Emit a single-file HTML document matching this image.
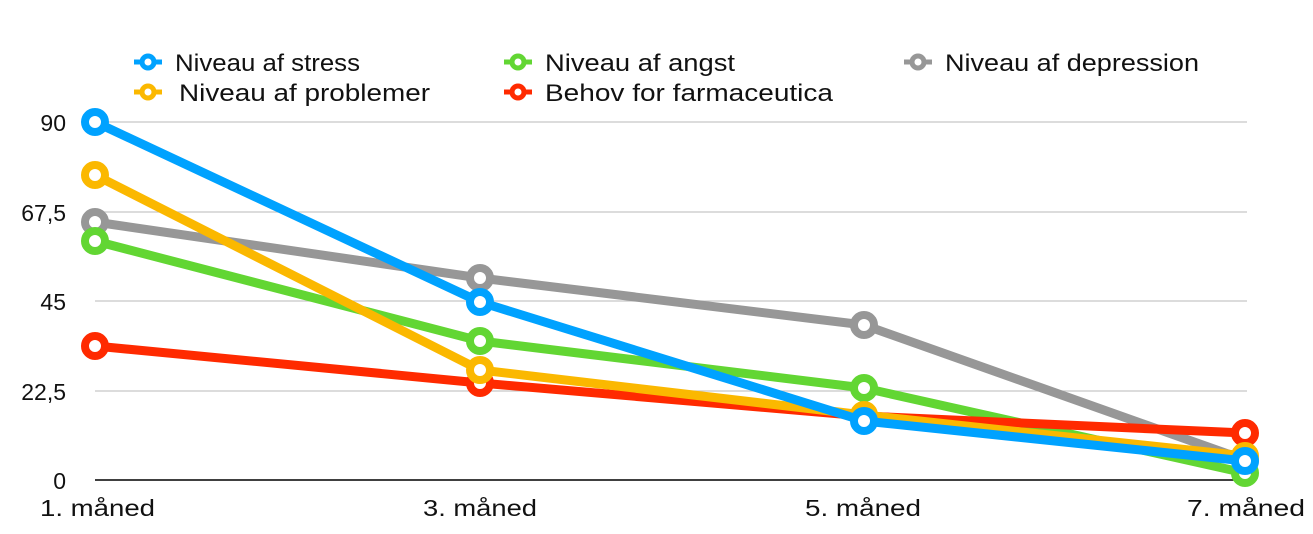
<!DOCTYPE html>
<html><head><meta charset="utf-8"><style>
body{margin:0;background:#fff;}
svg{display:block;font-family:"Liberation Sans",sans-serif;}
</style></head><body>
<svg width="1313" height="534" viewBox="0 0 1313 534">
<g stroke="#c8c8c8" stroke-width="1.2">
<line x1="95" y1="122" x2="1247" y2="122"/>
<line x1="95" y1="212" x2="1247" y2="212"/>
<line x1="95" y1="301" x2="1247" y2="301"/>
<line x1="95" y1="391" x2="1247" y2="391"/>
</g>
<line x1="95" y1="480" x2="1247" y2="480" stroke="#000" stroke-width="1.5"/>
<g font-size="23" fill="#111" text-anchor="end">
<text x="66" y="131">90</text>
<text x="66" y="221">67,5</text>
<text x="66" y="310">45</text>
<text x="66" y="400">22,5</text>
<text x="66" y="489">0</text>
</g>
<g font-size="23" fill="#111">
<text x="40" y="516" textLength="115" lengthAdjust="spacingAndGlyphs">1. måned</text>
<text x="423" y="516" textLength="114" lengthAdjust="spacingAndGlyphs">3. måned</text>
<text x="805" y="516" textLength="116" lengthAdjust="spacingAndGlyphs">5. måned</text>
<text x="1187" y="516" textLength="118" lengthAdjust="spacingAndGlyphs">7. måned</text>
</g>
<g fill="#fff" stroke-width="8" stroke-linejoin="round">
<g stroke="#979797"><polyline fill="none" stroke-width="9" points="95,222 480,278 864,325 1245,460"/>
<circle cx="95" cy="222" r="10"/><circle cx="480" cy="278" r="10"/><circle cx="864" cy="325" r="10"/><circle cx="1245" cy="460" r="10"/></g>
<g stroke="#62d633"><polyline fill="none" stroke-width="9" points="95,241 480,341 864,388 1245,473"/>
<circle cx="95" cy="241" r="10"/><circle cx="480" cy="341" r="10"/><circle cx="864" cy="388" r="10"/><circle cx="1245" cy="473" r="10"/></g>
<g stroke="#ff2a00"><polyline fill="none" stroke-width="9" points="95,346 480,383 864,416 1245,433"/>
<circle cx="95" cy="346" r="10"/><circle cx="480" cy="383" r="10"/><circle cx="864" cy="416" r="10"/><circle cx="1245" cy="433" r="10"/></g>
<g stroke="#fbb800"><polyline fill="none" stroke-width="9" points="95,175 480,370 864,415 1245,456"/>
<circle cx="95" cy="175" r="10"/><circle cx="480" cy="370" r="10"/><circle cx="864" cy="415" r="10"/><circle cx="1245" cy="456" r="10"/></g>
<g stroke="#00a2ff"><polyline fill="none" stroke-width="9" points="95,122 480,302 864,421 1245,461"/>
<circle cx="95" cy="122" r="10"/><circle cx="480" cy="302" r="10"/><circle cx="864" cy="421" r="10"/><circle cx="1245" cy="461" r="10"/></g>
</g>
<g stroke-width="5" fill="#fff">
<line x1="134" y1="62" x2="162" y2="62" stroke="#00a2ff"/><circle cx="148" cy="62" r="6" stroke="#00a2ff"/>
<line x1="134" y1="92" x2="162" y2="92" stroke="#fbb800"/><circle cx="148" cy="92" r="6" stroke="#fbb800"/>
<line x1="504" y1="62" x2="532" y2="62" stroke="#62d633"/><circle cx="518" cy="62" r="6" stroke="#62d633"/>
<line x1="504" y1="92" x2="532" y2="92" stroke="#ff2a00"/><circle cx="518" cy="92" r="6" stroke="#ff2a00"/>
<line x1="904" y1="62" x2="932" y2="62" stroke="#979797"/><circle cx="918" cy="62" r="6" stroke="#979797"/>
</g>
<g font-size="24" fill="#111">
<text x="175" y="71" textLength="185" lengthAdjust="spacingAndGlyphs">Niveau af stress</text>
<text x="179" y="101" textLength="251" lengthAdjust="spacingAndGlyphs">Niveau af problemer</text>
<text x="545" y="71" textLength="190" lengthAdjust="spacingAndGlyphs">Niveau af angst</text>
<text x="545" y="101" textLength="288" lengthAdjust="spacingAndGlyphs">Behov for farmaceutica</text>
<text x="945" y="71" textLength="254" lengthAdjust="spacingAndGlyphs">Niveau af depression</text>
</g>
</svg>
</body></html>
